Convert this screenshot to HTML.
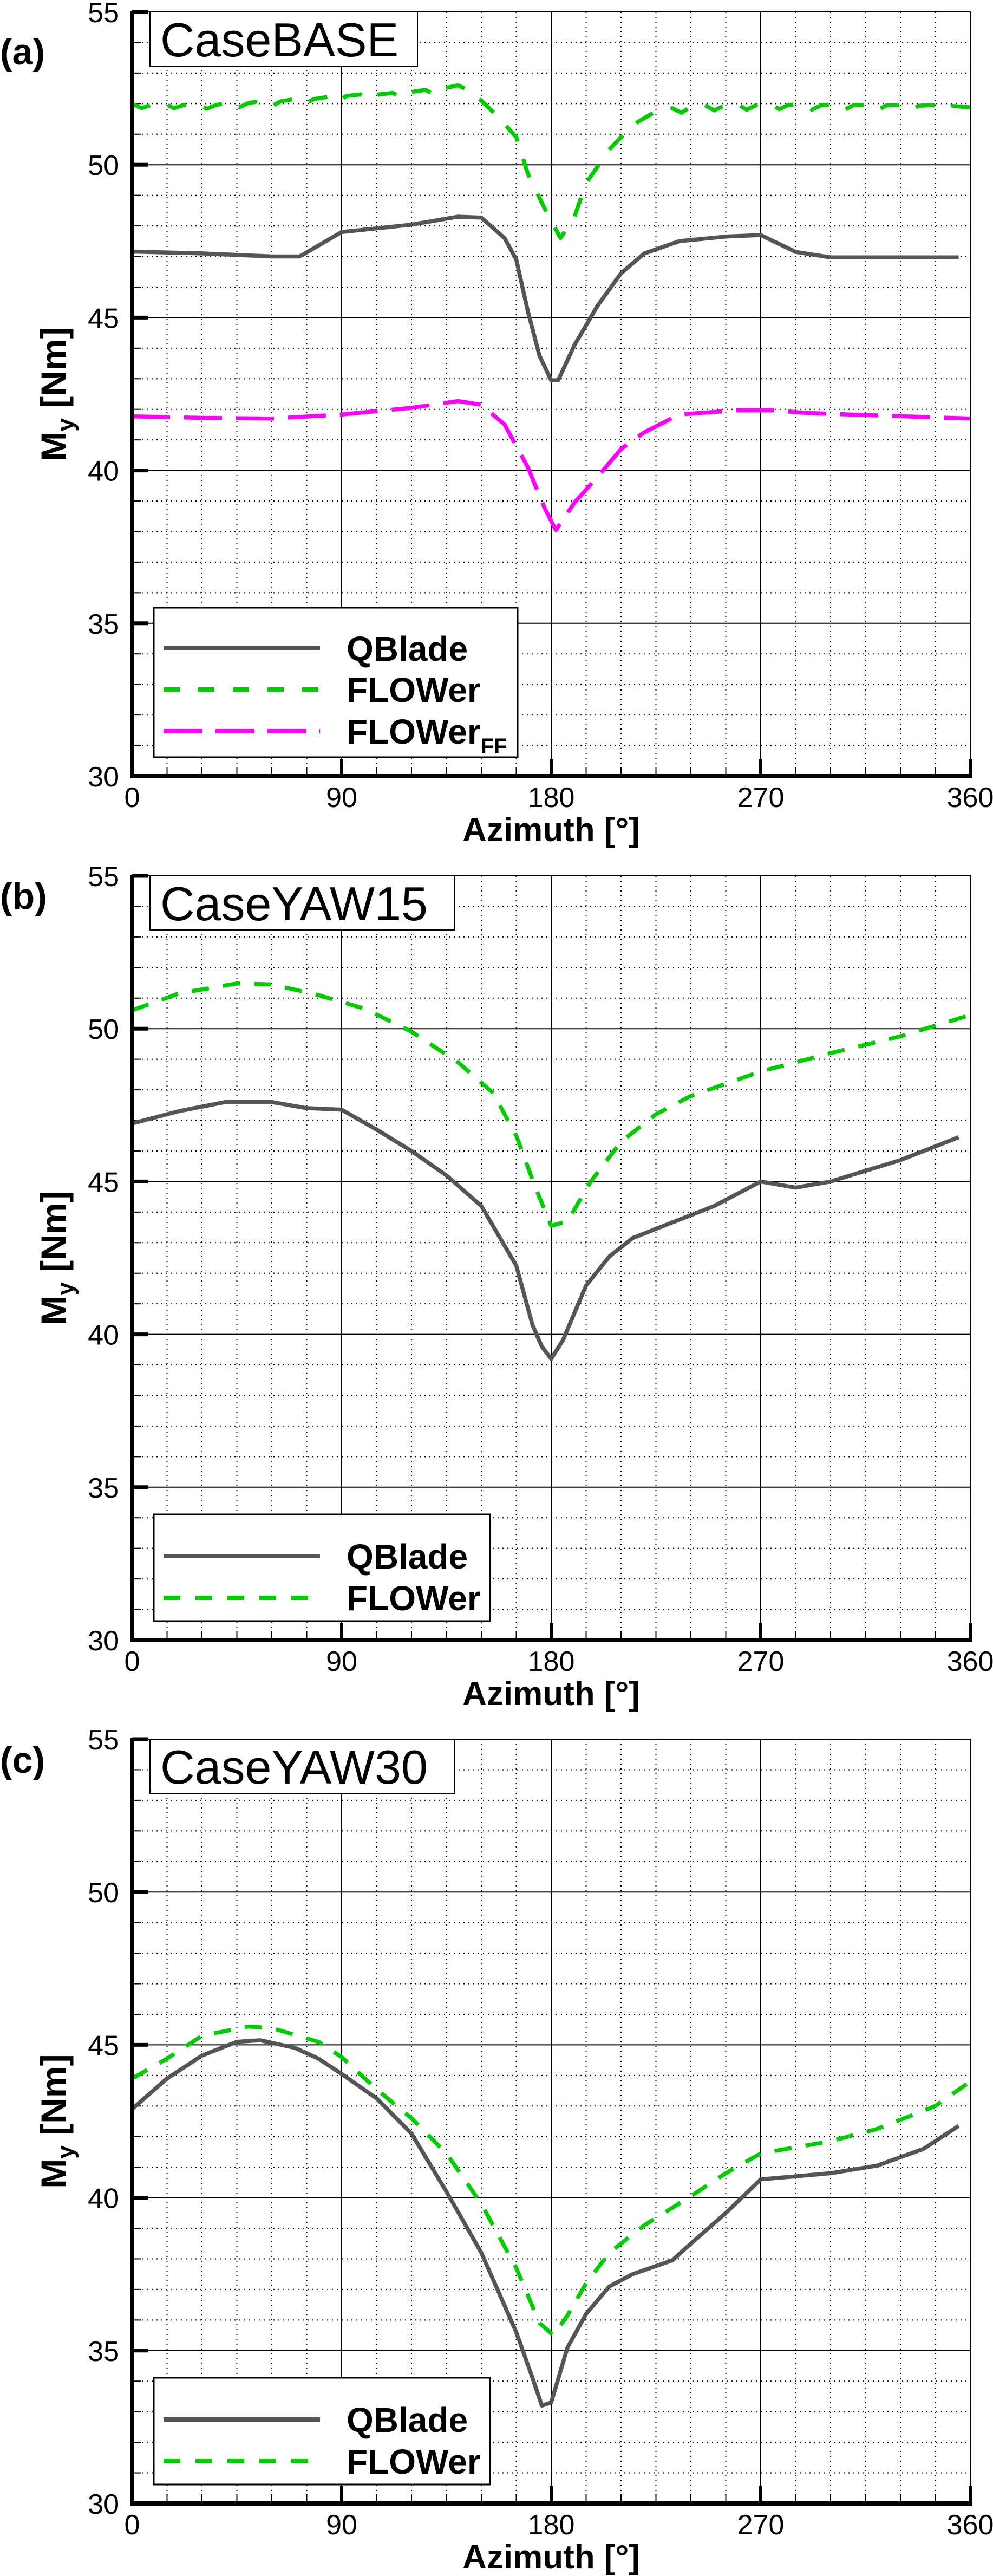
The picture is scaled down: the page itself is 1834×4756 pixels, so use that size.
<!DOCTYPE html>
<html><head><meta charset="utf-8">
<style>
html,body{margin:0;padding:0;background:#fff;}
svg{display:block;}
text{font-family:"Liberation Sans",Arial,sans-serif;}
</style></head>
<body>
<svg id="fig" xmlns="http://www.w3.org/2000/svg" width="1834" height="4756" viewBox="0 0 1834 4756"></svg>
<script>
// ---------- data ----------
const xTicks = [0, 90, 180, 270, 360];
const yTicks = [30, 35, 40, 45, 50, 55];
const xTickLabels = ["0", "90", "180", "270", "360"];
const yTickLabels = ["30", "35", "40", "45", "50", "55"];
const panelLetters = ["(a)", "(b)", "(c)"];
const panelTitles = ["CaseBASE", "CaseYAW15", "CaseYAW30"];

// Panel (a)
const aQBladeAz = [0, 30, 60, 72, 90, 120, 140, 150, 160, 165, 170, 175, 180, 183, 190, 200, 210, 220, 235, 255, 270, 285, 300, 330, 355];
const aQBladeMy = [47.16, 47.1, 47.0, 47.0, 47.8, 48.04, 48.3, 48.27, 47.6, 46.9, 45.2, 43.75, 42.95, 42.95, 44.1, 45.4, 46.45, 47.1, 47.5, 47.65, 47.7, 47.15, 46.97, 46.97, 46.97];
const aFlowerAz = [0, 4, 8, 14, 18, 22, 28, 32, 36, 42, 46, 50, 56, 60, 64, 70, 74, 78, 84, 88, 92, 98, 102, 106, 112, 116, 120, 126, 130, 134, 140, 145, 150, 158, 165, 170, 177, 184, 190, 195, 205, 215, 225, 232, 236, 240, 246, 250, 254, 260, 264, 268, 274, 278, 282, 288, 292, 296, 302, 306, 310, 316, 320, 324, 330, 334, 338, 344, 348, 352, 360];
const aFlowerMy = [52.0, 51.85, 51.95, 52.0, 51.85, 51.95, 52.0, 51.83, 51.95, 52.05, 51.88, 52.02, 52.1, 51.92, 52.08, 52.15, 51.98, 52.15, 52.22, 52.05, 52.25, 52.3, 52.12, 52.3, 52.35, 52.18, 52.38, 52.45, 52.28, 52.5, 52.6, 52.42, 52.1, 51.5, 50.9, 49.7, 48.6, 47.6, 48.3, 49.4, 50.5, 51.3, 51.75, 51.85, 51.7, 51.9, 51.95, 51.78, 51.92, 51.98, 51.8, 51.95, 51.98, 51.82, 51.96, 51.98, 51.8, 51.95, 51.97, 51.8, 51.95, 51.96, 51.78, 51.94, 51.95, 51.78, 51.93, 51.95, 51.78, 51.92, 51.88];
const aFlowerFFAz = [0, 30, 60, 90, 120, 140, 150, 160, 170, 177, 182, 190, 200, 210, 220, 235, 260, 275, 290, 320, 360];
const aFlowerFFMy = [41.77, 41.72, 41.7, 41.83, 42.05, 42.27, 42.15, 41.5, 40.1, 38.8, 38.05, 38.95, 39.8, 40.7, 41.25, 41.83, 41.97, 41.97, 41.88, 41.8, 41.7];

// Panel (b)
const bQBladeAz = [0, 20, 40, 60, 75, 90, 105, 120, 135, 150, 165, 172, 176, 180, 185, 195, 205, 215, 230, 250, 270, 285, 300, 315, 330, 355];
const bQBladeMy = [46.9, 47.3, 47.6, 47.6, 47.4, 47.35, 46.7, 46.0, 45.2, 44.2, 42.25, 40.3, 39.6, 39.2, 39.8, 41.6, 42.55, 43.15, 43.6, 44.2, 45.0, 44.8, 45.0, 45.35, 45.7, 46.45];
const bFlowerAz = [0, 20, 45, 60, 80, 100, 120, 140, 155, 165, 173, 180, 187, 197, 210, 225, 240, 270, 300, 330, 358];
const bFlowerMy = [50.6, 51.15, 51.48, 51.45, 51.1, 50.65, 49.9, 48.9, 47.9, 46.5, 44.85, 43.55, 43.7, 45.0, 46.3, 47.2, 47.8, 48.6, 49.2, 49.75, 50.4];

// Panel (c)
const cQBladeAz = [0, 15, 30, 45, 55, 70, 80, 90, 105, 120, 135, 150, 165, 172, 176, 180, 187, 195, 205, 215, 232, 240, 255, 270, 285, 300, 320, 340, 355];
const cQBladeMy = [42.9, 43.9, 44.65, 45.1, 45.15, 44.9, 44.55, 44.05, 43.25, 42.1, 40.2, 38.2, 35.6, 34.1, 33.2, 33.3, 35.1, 36.2, 37.1, 37.5, 37.95, 38.5, 39.5, 40.6, 40.7, 40.8, 41.05, 41.6, 42.35];
const cFlowerAz = [0, 15, 30, 50, 60, 80, 90, 105, 120, 135, 150, 165, 175, 181, 187, 195, 205, 220, 240, 255, 270, 285, 300, 320, 345, 360];
const cFlowerMy = [43.9, 44.55, 45.3, 45.6, 45.55, 45.1, 44.6, 43.55, 42.6, 41.45, 39.8, 37.7, 35.9, 35.5, 36.15, 37.2, 38.2, 39.1, 40.05, 40.8, 41.45, 41.65, 41.85, 42.25, 43.0, 43.8];

// ---------- layout ----------
const NS = "http://www.w3.org/2000/svg";
const svg = document.getElementById("fig");
const X0 = 244, X1 = 1792, PH = 1411;
const panelTops = [22, 1617, 3211];
const letterBaselines = [119, 1678, 3273];
const titleBoxRight = [771, 840, 840];
const QCOL = "#555555", GCOL = "#00cc00", MCOL = "#ff00ff";

function mk(tag, attrs, parent) {
  const e = document.createElementNS(NS, tag);
  for (const k in attrs) e.setAttribute(k, attrs[k]);
  (parent || svg).appendChild(e);
  return e;
}
function xScale(az) { return X0 + (az - 0) / 360 * (X1 - X0); }
function yScaleFor(top) { return v => top + (55 - v) / 25 * PH; }

function drawLine(g, az, my, ys, color, dash, name) {
  let d = "";
  for (let i = 0; i < az.length; i++) d += (i ? "L" : "M") + xScale(az[i]).toFixed(1) + "," + ys(my[i]).toFixed(1);
  const p = mk("path", {d: d, fill: "none", stroke: color, "stroke-width": 7.5, "stroke-linejoin": "round", "stroke-dasharray": dash || "none"}, g);
  
  
}

function drawPanel(idx, series, legendItems) {
  const top = panelTops[idx], bot = top + PH;
  const ys = yScaleFor(top);
  const g = mk("g", {});
  
  

  for (let a = 15; a < 360; a += 15) {
    if (a % 90 === 0) continue;
    const l = mk("line", {x1: xScale(a), x2: xScale(a), y1: top, y2: bot, stroke: "#000", "stroke-width": 2, "stroke-dasharray": "2,7"}, g);
    
    
  }
  for (let v = 31; v < 55; v++) {
    if (v % 5 === 0) continue;
    const l = mk("line", {x1: X0, x2: X1, y1: ys(v), y2: ys(v), stroke: "#000", "stroke-width": 2, "stroke-dasharray": "2,7"}, g);
    
    
  }
  for (const a of xTicks) {
    const l = mk("line", {x1: xScale(a), x2: xScale(a), y1: top, y2: bot, stroke: "#000", "stroke-width": 2}, g);
    
    
  }
  for (const v of yTicks) {
    const l = mk("line", {x1: X0, x2: X1, y1: ys(v), y2: ys(v), stroke: "#000", "stroke-width": 2}, g);
    
    
  }
  for (let v = 31; v < 55; v++) {
    const l = mk("line", {x1: X0, x2: X0 + 16, y1: ys(v), y2: ys(v), stroke: "#000", "stroke-width": 2}, g);
    
    
  }
  for (const v of yTicks) {
    const l = mk("line", {x1: X0, x2: X0 + 30, y1: ys(v), y2: ys(v), stroke: "#000", "stroke-width": 7}, g);
    
    
  }
  for (let a = 15; a < 360; a += 15) {
    const l = mk("line", {x1: xScale(a), x2: xScale(a), y1: bot, y2: bot - 17, stroke: "#000", "stroke-width": 2}, g);
    
    
  }
  for (const a of xTicks) {
    const l = mk("line", {x1: xScale(a), x2: xScale(a), y1: bot, y2: bot - 32, stroke: "#000", "stroke-width": 6}, g);
    
    
  }

  for (const s of series) drawLine(g, s.az, s.my, ys, s.color, s.dash, s.name);

  const fr = mk("rect", {x: X0, y: top, width: X1 - X0, height: PH, fill: "none", stroke: "#000", "stroke-width": 2}, g);
  
  
  const la = mk("line", {x1: X0, x2: X0, y1: top - 2, y2: bot + 3, stroke: "#000", "stroke-width": 7}, g);
  
  
  const ba = mk("line", {x1: X0 - 3, x2: X1 + 3, y1: bot, y2: bot, stroke: "#000", "stroke-width": 8}, g);
  
  

  for (let i = 0; i < yTicks.length; i++) {
    const t = mk("text", {x: 220, y: ys(yTicks[i]) + 19, "font-size": 52, "text-anchor": "end"}, g);
    t.textContent = yTickLabels[i];
    
    
  }
  for (let i = 0; i < xTicks.length; i++) {
    const t = mk("text", {x: xScale(xTicks[i]), y: bot + 57, "font-size": 52, "text-anchor": "middle"}, g);
    t.textContent = xTickLabels[i];
    
    
  }
  const xt = mk("text", {x: (X0 + X1) / 2, y: bot + 120, "font-size": 62, "font-weight": "bold", "text-anchor": "middle"}, g);
  xt.textContent = "Azimuth [°]";
  
  
  const cy = top + PH / 2;
  const yt = mk("text", {x: 0, y: 0, "font-size": 66, "font-weight": "bold", "text-anchor": "middle", transform: "translate(122," + cy + ") rotate(-90)"}, g);
  
  
  const t1 = mk("tspan", {}, yt); t1.textContent = "M";
  const t2 = mk("tspan", {"font-size": 44, dy: 14}, yt); t2.textContent = "y";
  const t3 = mk("tspan", {dy: -14}, yt); t3.textContent = " [Nm]";

  const tb = mk("rect", {x: 277, y: top, width: titleBoxRight[idx] - 277, height: 100, fill: "#fff", stroke: "#000", "stroke-width": 2}, g);
  
  
  const tt = mk("text", {x: 296, y: top + 82, "font-size": 88}, g);
  tt.textContent = panelTitles[idx];
  
  

  const pl = mk("text", {x: 0, y: letterBaselines[idx], "font-size": 68, "font-weight": "bold"}, g);
  pl.textContent = panelLetters[idx];
  
  

  const three = legendItems.length === 3;
  const lx0 = 284, lx1 = three ? 956 : 905;
  const ly0 = top + (three ? 1100 : 1179), ly1 = top + 1376;
  const lg = mk("g", {}, g);
  
  
  mk("rect", {x: lx0, y: ly0, width: lx1 - lx0, height: ly1 - ly0, fill: "#fff", stroke: "#000", "stroke-width": 3}, lg);
  const rowY = three ? [1175, 1251, 1328] : [1256, 1333];
  legendItems.forEach((it, i) => {
    const yy = top + rowY[i];
    const e = mk("g", {}, lg);
    
    
    mk("line", {x1: 302, x2: 591, y1: yy, y2: yy, stroke: it.color, "stroke-width": 8, "stroke-dasharray": it.dash || "none"}, e);
    const t = mk("text", {x: 640, y: yy + 23, "font-size": 64, "font-weight": "bold"}, e);
    t.textContent = it.label;
    if (it.sub) { const s = mk("tspan", {"font-size": 40, dy: 18}, t); s.textContent = it.sub; }
  });
}

drawPanel(0, [
  {az: aQBladeAz, my: aQBladeMy, color: QCOL, name: "qblade-line"},
  {az: aFlowerAz, my: aFlowerMy, color: GCOL, dash: "36,34", name: "flower-line"},
  {az: aFlowerFFAz, my: aFlowerFFMy, color: MCOL, dash: "70,26", name: "flower-ff-line"}
], [
  {label: "QBlade", color: QCOL},
  {label: "FLOWer", color: GCOL, dash: "30,34"},
  {label: "FLOWer", sub: "FF", color: MCOL, dash: "72,24"}
]);
drawPanel(1, [
  {az: bQBladeAz, my: bQBladeMy, color: QCOL, name: "qblade-line"},
  {az: bFlowerAz, my: bFlowerMy, color: GCOL, dash: "32,26", name: "flower-line"}
], [
  {label: "QBlade", color: QCOL},
  {label: "FLOWer", color: GCOL, dash: "31,28"}
]);
drawPanel(2, [
  {az: cQBladeAz, my: cQBladeMy, color: QCOL, name: "qblade-line"},
  {az: cFlowerAz, my: cFlowerMy, color: GCOL, dash: "32,26", name: "flower-line"}
], [
  {label: "QBlade", color: QCOL},
  {label: "FLOWer", color: GCOL, dash: "31,28"}
]);
</script>
</body></html>
